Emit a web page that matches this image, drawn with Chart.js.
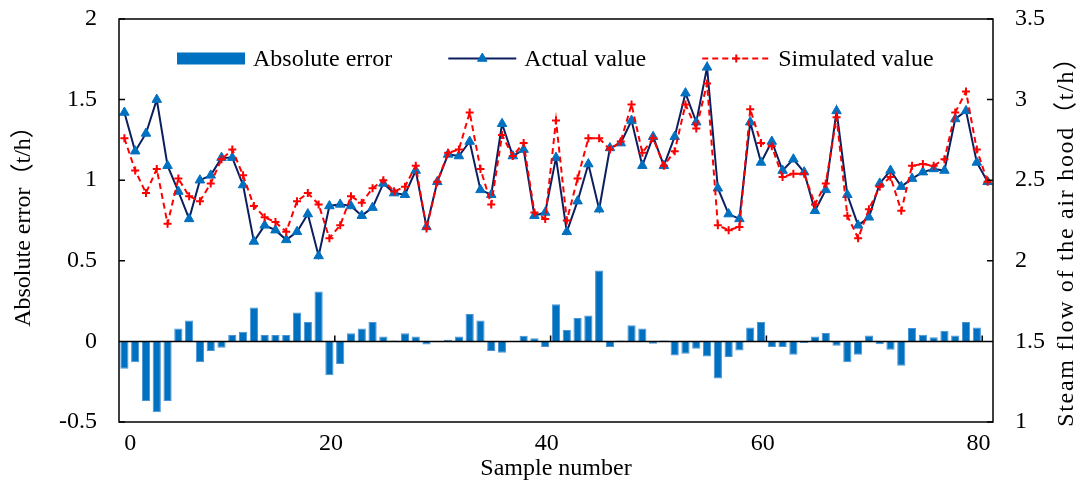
<!DOCTYPE html>
<html>
<head>
<meta charset="utf-8">
<title>Absolute error / steam flow of the air hood</title>
<script src="https://cdn.jsdelivr.net/npm/chart.js@4.4.1/dist/chart.umd.min.js"></script>
<style>
  html, body { margin: 0; padding: 0; background: #fff; }
  #wrap { position: relative; width: 1088px; height: 485px; }
</style>
</head>
<body>
<div id="wrap"><canvas id="errChart" width="1088" height="485"></canvas></div>
<script>
// Values, sample number 0..80

// x axis labels (sample number)
const sampleTicks = [0, 20, 40, 60, 80];
// left axis: absolute error (t/h)
const errorTicks = [-0.5, 0, 0.5, 1, 1.5, 2];
// right axis: steam flow of the air hood (t/h)
const flowTicks = [1, 1.5, 2, 2.5, 3, 3.5];
const flowTitle = 'Steam flow of the air hood（t/h）';

const actualValue = [
  2.92, 2.68, 2.79, 3.00, 2.59, 2.43, 2.26, 2.50, 2.53, 2.64,
  2.64, 2.47, 2.12, 2.22, 2.19, 2.13, 2.18, 2.29, 2.03, 2.34,
  2.35, 2.34, 2.28, 2.33, 2.48, 2.42, 2.41, 2.56, 2.21, 2.49,
  2.66, 2.65, 2.74, 2.44, 2.41, 2.85, 2.65, 2.69, 2.28, 2.30,
  2.64, 2.18, 2.37, 2.60, 2.32, 2.70, 2.73, 2.87, 2.59, 2.77,
  2.59, 2.77, 3.04, 2.86, 3.20, 2.45, 2.29, 2.26, 2.86, 2.61,
  2.74, 2.56, 2.63, 2.55, 2.31, 2.44, 2.93, 2.41, 2.22, 2.27,
  2.48, 2.56, 2.46, 2.51, 2.55, 2.57, 2.56, 2.88, 2.93, 2.61,
  2.49
];

const simulatedValue = [
  2.76, 2.56, 2.42, 2.57, 2.23, 2.51, 2.40, 2.37, 2.48, 2.63,
  2.69, 2.53, 2.34, 2.27, 2.24, 2.18, 2.37, 2.42, 2.35, 2.14,
  2.22, 2.40, 2.36, 2.45, 2.50, 2.43, 2.46, 2.59, 2.20, 2.49,
  2.67, 2.69, 2.92, 2.57, 2.35, 2.78, 2.65, 2.73, 2.30, 2.26,
  2.87, 2.25, 2.51, 2.76, 2.76, 2.69, 2.74, 2.97, 2.67, 2.76,
  2.59, 2.68, 2.97, 2.82, 3.10, 2.22, 2.19, 2.21, 2.94, 2.73,
  2.71, 2.52, 2.54, 2.54, 2.35, 2.48, 2.89, 2.28, 2.14, 2.32,
  2.46, 2.52, 2.31, 2.59, 2.60, 2.59, 2.63, 2.92, 3.05, 2.69,
  2.49
];

const absoluteError = [
  -0.17, -0.13, -0.37, -0.44, -0.37, 0.08, 0.13, -0.13, -0.06, -0.04,
  0.04, 0.06, 0.21, 0.04, 0.04, 0.04, 0.18, 0.12, 0.31, -0.21,
  -0.14, 0.05, 0.08, 0.12, 0.03, 0.005, 0.05, 0.03, -0.02, -0.005,
  0.01, 0.03, 0.17, 0.13, -0.06, -0.07, 0.002, 0.035, 0.02, -0.035,
  0.23, 0.07, 0.145, 0.16, 0.44, -0.035, 0.005, 0.10, 0.08, -0.014,
  0.005, -0.087, -0.077, -0.045, -0.093, -0.23, -0.097, -0.056, 0.087, 0.12,
  -0.035, -0.035, -0.083, -0.01, 0.031, 0.052, -0.027, -0.13, -0.083, 0.037,
  -0.017, -0.052, -0.151, 0.083, 0.041, 0.025, 0.066, 0.037, 0.12, 0.087,
  -0.004
];

const serif = "'Liberation Serif', 'Times New Roman', 'Noto Sans CJK SC', serif";
Chart.defaults.font.family = serif;
Chart.defaults.color = '#000';

const toPoints = arr => arr.map((v, i) => ({ x: i, y: v }));

// Frame, zero line and the small inward tick marks (Excel look)
const framePlugin = {
  id: 'frame',
  afterDatasetsDraw(chart) {
    const { ctx, chartArea: a, scales } = chart;
    const y0 = scales.y.getPixelForValue(0);
    ctx.save();
    ctx.strokeStyle = '#000';
    ctx.lineWidth = 1.5;
    ctx.strokeRect(a.left, a.top, a.right - a.left, a.bottom - a.top);
    ctx.beginPath();
    ctx.moveTo(a.left, y0);
    ctx.lineTo(a.right, y0);
    errorTicks.forEach(v => {
      const y = scales.y.getPixelForValue(v);
      ctx.moveTo(a.left, y);
      ctx.lineTo(a.left + 6, y);
    });
    flowTicks.forEach(v => {
      const y = scales.y2.getPixelForValue(v);
      ctx.moveTo(a.right, y);
      ctx.lineTo(a.right - 6, y);
    });
    sampleTicks.slice(1).forEach(v => {
      const x = scales.x.getPixelForValue(v - 0.5);
      ctx.moveTo(x, y0);
      ctx.lineTo(x, y0 - 6);
    });
    ctx.stroke();
    ctx.restore();
  }
};

// Legend inside the plot (one row) + right axis title read bottom-to-top
const legendPlugin = {
  id: 'innerLegend',
  afterDraw(chart) {
    const { ctx, chartArea: a } = chart;
    const yMid = a.top + 39.5;
    const symW = 68;
    let x = a.left + 58;
    ctx.save();
    ctx.font = `24px ${serif}`;
    ctx.textBaseline = 'middle';
    chart.data.datasets.forEach(d => {
      if (d.type === 'line') {
        ctx.strokeStyle = d.borderColor;
        ctx.lineWidth = d.borderWidth;
        ctx.setLineDash(d.borderDash || []);
        ctx.beginPath();
        ctx.moveTo(x, yMid);
        ctx.lineTo(x + symW, yMid);
        ctx.stroke();
        ctx.setLineDash([]);
        ctx.fillStyle = d.pointBackgroundColor;
        ctx.strokeStyle = d.pointBorderColor;
        ctx.lineWidth = d.pointBorderWidth;
        Chart.helpers.drawPoint(ctx, {
          pointStyle: d.pointStyle,
          radius: d.pointRadius,
          rotation: 0,
          borderWidth: d.pointBorderWidth
        }, x + symW / 2, yMid);
      } else {
        ctx.fillStyle = d.backgroundColor;
        ctx.fillRect(x, yMid - 6, symW, 12);
      }
      x += symW + 8;
      ctx.fillStyle = '#000';
      ctx.fillText(d.label, x, yMid + 1);
      x += ctx.measureText(d.label).width + 56;
    });

    // right title, spaced out a little like the source
    ctx.translate(chart.width - 21, (a.top + a.bottom) / 2 + 15);
    ctx.rotate(-Math.PI / 2);
    ctx.textAlign = 'center';
    ctx.letterSpacing = '1.7px';
    ctx.fillText(flowTitle, 0, 0);
    ctx.restore();
  }
};

const ctx = document.getElementById('errChart').getContext('2d');
const errChart = new Chart(ctx, {
  type: 'bar',
  data: {
    datasets: [
      {
        type: 'bar',
        label: 'Absolute error',
        data: toPoints(absoluteError),
        yAxisID: 'y',
        backgroundColor: '#0070C0',
        borderColor: '#4a94d4',
        borderWidth: 1,
        categoryPercentage: 0.76,
        barPercentage: 1,
        order: 3
      },
      {
        type: 'line',
        label: 'Actual value',
        data: toPoints(actualValue),
        yAxisID: 'y2',
        borderColor: '#0b1f5e',
        borderWidth: 2,
        tension: 0,
        pointStyle: 'triangle',
        pointRadius: 5.5,
        pointBackgroundColor: '#0070C0',
        pointBorderColor: '#0070C0',
        pointBorderWidth: 1,
        order: 2
      },
      {
        type: 'line',
        label: 'Simulated value',
        data: toPoints(simulatedValue),
        yAxisID: 'y2',
        borderColor: '#ff0000',
        borderWidth: 2,
        borderDash: [6, 4],
        tension: 0,
        pointStyle: 'cross',
        pointRadius: 4,
        pointBackgroundColor: '#ff0000',
        pointBorderColor: '#ff0000',
        pointBorderWidth: 2,
        order: 1
      }
    ]
  },
  options: {
    responsive: false,
    animation: false,
    layout: { padding: { top: 19 } },
    plugins: {
      legend: { display: false },
      tooltip: { enabled: false }
    },
    scales: {
      x: {
        type: 'linear',
        min: -0.5,
        max: 80.5,
        offset: false,
        grid: { display: false, drawTicks: false, offset: false },
        border: { display: false },
        afterBuildTicks: s => {
          // labels sit just left of the category boundaries like the source
          s.ticks = sampleTicks.map(v => ({ value: Math.max(v - 0.85, 0.55) }));
        },
        ticks: {
          font: { size: 24 },
          padding: 7,
          maxRotation: 0,
          autoSkip: false,
          callback: (v, i) => String(sampleTicks[i])
        },
        title: { display: true, text: 'Sample number', font: { size: 24 }, padding: { top: 0, bottom: 2 } },
        afterFit: s => { s.height = 63; s.paddingLeft = 0; s.paddingRight = 0; }
      },
      y: {
        position: 'left',
        min: -0.5,
        max: 2,
        grid: { display: false, drawTicks: false },
        border: { display: false },
        afterBuildTicks: s => { s.ticks = errorTicks.map(v => ({ value: v })); },
        ticks: { font: { size: 24 }, padding: 22, callback: v => String(v) },
        title: { display: true, text: 'Absolute error（t/h）', font: { size: 24 }, padding: { top: 9 } },
        afterFit: s => { s.width = 119; s.paddingTop = 0; s.paddingBottom = 0; }
      },
      y2: {
        position: 'right',
        min: 1,
        max: 3.5,
        grid: { display: false, drawTicks: false },
        border: { display: false },
        afterBuildTicks: s => { s.ticks = flowTicks.map(v => ({ value: v })); },
        ticks: { font: { size: 24 }, padding: 22, callback: v => String(v) },
        afterFit: s => { s.width = 95; s.paddingTop = 0; s.paddingBottom = 0; }
      }
    }
  },
  plugins: [framePlugin, legendPlugin]
});
</script>
</body>
</html>
